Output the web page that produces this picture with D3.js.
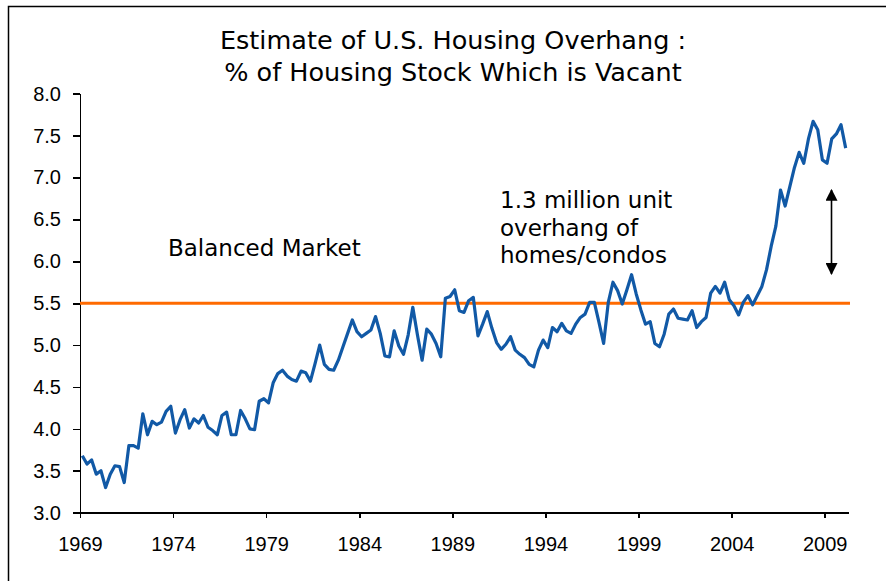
<!DOCTYPE html>
<html>
<head>
<meta charset="utf-8">
<style>
body { margin: 0; background: #fff; }
svg { font-family: "DejaVu Sans", Verdana, sans-serif; }
.axis path, .axis line { stroke: #000; stroke-width: 1.6px; shape-rendering: crispEdges; }
.axis text { font-size: 20px; fill: #000; }
.title { font-size: 25.5px; }
.note { font-size: 23px; }
</style>
</head>
<body>
<svg width="886" height="581"></svg>
<script src="https://d3js.org/d3.v7.min.js"></script>
<script>

// quarterly vacancy share, 1969 Q1 .. 2010 Q1
var startYear = 1969;
var vacancy = [
  3.68, 3.58, 3.63, 3.46, 3.50, 3.30, 3.46, 3.56, 3.55, 3.36,
  3.80, 3.80, 3.77, 4.18, 3.93, 4.09, 4.05, 4.08, 4.21, 4.27,
  3.95, 4.11, 4.23, 4.01, 4.12, 4.07, 4.16, 4.02, 3.98, 3.93,
  4.16, 4.20, 3.93, 3.93, 4.22, 4.12, 4.00, 3.99, 4.33, 4.36,
  4.31, 4.55, 4.66, 4.70, 4.63, 4.59, 4.57, 4.69, 4.67, 4.57,
  4.78, 5.00, 4.77, 4.71, 4.70, 4.82, 4.98, 5.14, 5.30, 5.16,
  5.10, 5.14, 5.18, 5.34, 5.14, 4.87, 4.86, 5.17, 4.99, 4.89,
  5.12, 5.45, 5.12, 4.82, 5.19, 5.13, 5.02, 4.86, 5.56, 5.58,
  5.66, 5.41, 5.39, 5.53, 5.57, 5.11, 5.25, 5.40, 5.20, 5.03,
  4.95, 5.01, 5.10, 4.94, 4.89, 4.85, 4.77, 4.74, 4.94, 5.06,
  4.97, 5.21, 5.16, 5.26, 5.17, 5.14, 5.25, 5.33, 5.37, 5.51,
  5.51, 5.27, 5.02, 5.51, 5.75, 5.65, 5.49, 5.66, 5.84, 5.61,
  5.42, 5.25, 5.28, 5.02, 4.98, 5.13, 5.37, 5.43, 5.32, 5.31,
  5.30, 5.41, 5.21, 5.28, 5.33, 5.62, 5.70, 5.62, 5.75, 5.54,
  5.47, 5.36, 5.51, 5.59, 5.48, 5.59, 5.70, 5.90, 6.18, 6.42,
  6.85, 6.66, 6.89, 7.12, 7.30, 7.17, 7.46, 7.67, 7.57, 7.21,
  7.17, 7.46, 7.52, 7.63, 7.35
];
var balanced = 5.5;
var xTicks = [1969, 1974, 1979, 1984, 1989, 1994, 1999, 2004, 2009];
var yTicks = [3.0, 3.5, 4.0, 4.5, 5.0, 5.5, 6.0, 6.5, 7.0, 7.5, 8.0];
var titleLines = ["Estimate of U.S. Housing Overhang :", "% of Housing Stock Which is Vacant"];
var balancedLabel = "Balanced Market";
var overhangLines = ["1.3 million unit", "overhang of", "homes/condos"];
var arrowSpan = [6.85, 5.85];

var svg = d3.select("svg");

// outer frame (only top and left edges show in the picture)
svg.append("rect")
    .attr("x", 8.5).attr("y", 6.5)
    .attr("width", 900).attr("height", 600)
    .attr("fill", "none").attr("stroke", "#000").attr("stroke-width", 1.5);

var x = d3.scaleLinear()
    .domain([startYear, startYear + vacancy.length / 4])
    .range([80, 848]);

var y = d3.scaleLinear()
    .domain([3, 8])
    .range([512.7, 93.7]);

var data = vacancy.map(function(v, i) {
  return { t: startYear + (i + 0.5) / 4, v: v };
});

svg.append("g")
    .attr("class", "axis")
    .attr("transform", "translate(0," + y(3) + ")")
    .call(d3.axisBottom(x).tickValues(xTicks).tickFormat(d3.format("d")).tickSize(5).tickSizeOuter(0).tickPadding(19));

svg.append("g")
    .attr("class", "axis")
    .attr("transform", "translate(" + x(startYear) + ",0)")
    .call(d3.axisLeft(y).tickValues(yTicks).tickFormat(d3.format(".1f")).tickSize(7).tickSizeOuter(0).tickPadding(12));

svg.selectAll(".axis .domain").attr("stroke-width", 2);

// balanced market line
svg.append("line")
    .attr("x1", x(startYear)).attr("x2", 850)
    .attr("y1", y(balanced)).attr("y2", y(balanced))
    .attr("stroke", "#ff6a00").attr("stroke-width", 3);

svg.append("path")
    .datum(data)
    .attr("fill", "none")
    .attr("stroke", "#1159a6")
    .attr("stroke-width", 3.2)
    .attr("stroke-linejoin", "round")
    .attr("d", d3.line()
      .x(function(d) { return x(d.t); })
      .y(function(d) { return y(d.v); }));

svg.append("text")
    .attr("class", "title")
    .attr("text-anchor", "middle")
    .selectAll("tspan")
    .data(titleLines)
    .enter().append("tspan")
    .attr("x", 453)
    .attr("y", function(d, i) { return 48.5 + i * 32.5; })
    .text(function(d) { return d; });

svg.append("text")
    .attr("class", "note")
    .attr("x", 168).attr("y", 255.5)
    .text(balancedLabel);

svg.append("text")
    .attr("class", "note")
    .selectAll("tspan")
    .data(overhangLines)
    .enter().append("tspan")
    .attr("x", 500)
    .attr("y", function(d, i) { return 208 + i * 27.5; })
    .text(function(d) { return d; });

// double-headed arrow for the overhang
svg.append("defs").selectAll("marker")
    .data(["head"])
    .enter().append("marker")
    .attr("id", "head")
    .attr("viewBox", "0 0 10 10")
    .attr("refX", 9).attr("refY", 5)
    .attr("markerWidth", 12).attr("markerHeight", 12)
    .attr("markerUnits", "userSpaceOnUse")
    .attr("orient", "auto-start-reverse")
    .append("path")
    .attr("d", "M0,0L10,5L0,10Z")
    .attr("fill", "#000");

svg.append("line")
    .attr("x1", 831.5).attr("x2", 831.5)
    .attr("y1", y(arrowSpan[0])).attr("y2", y(arrowSpan[1]))
    .attr("stroke", "#000").attr("stroke-width", 1.6)
    .attr("marker-start", "url(#head)")
    .attr("marker-end", "url(#head)");

</script>
</body>
</html>
